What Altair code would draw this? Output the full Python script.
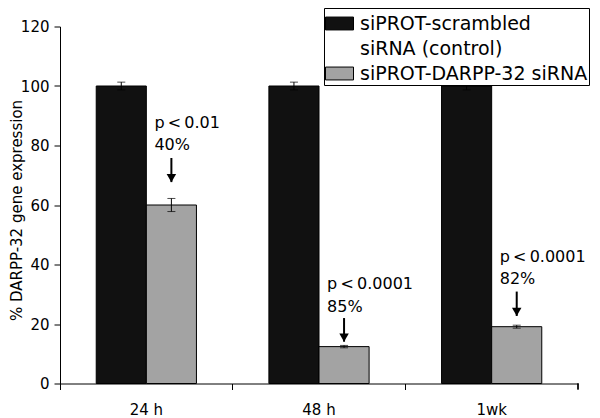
import altair as alt
import pandas as pd

# ---- data ----
timepoints = ["24 h", "48 h", "1wk"]
series = ["siPROT-scrambled", "siRNA (control)", "siPROT-DARPP-32 siRNA"]  # legend rows
control_mean = [100.0, 100.0, 100.0]
control_err = [1.3, 1.3, 1.3]
darpp_mean = [60.0, 12.4, 19.1]
darpp_err = [2.2, 0.4, 0.5]
p_labels = ["p\u2009<\u20090.01", "p\u2009<\u20090.0001", "p\u2009<\u20090.0001"]
reduction_labels = ["40%", "85%", "82%"]
note_line1 = [87.6, 33.4, 42.6]
note_line2 = [80.2, 25.8, 35.1]
arrow_top = [75.8, 22.0, 30.9]
arrow_tip = [67.7, 14.05, 22.7]

bar_series = [series[0], series[2]]

rows = []
for i, t in enumerate(timepoints):
    rows.append(dict(time=t, series=series[0], mean=control_mean[i],
                     lo=control_mean[i] - control_err[i], hi=control_mean[i] + control_err[i]))
    rows.append(dict(time=t, series=series[2], mean=darpp_mean[i],
                     lo=darpp_mean[i] - darpp_err[i], hi=darpp_mean[i] + darpp_err[i]))
bars_df = pd.DataFrame(rows)

notes_df = pd.DataFrame(dict(time=timepoints, series=[series[2]] * 3, p=p_labels,
                             pct=reduction_labels, l1=note_line1, l2=note_line2,
                             a0=arrow_top, a1=arrow_tip))

FONT = "DejaVu Sans"

x = alt.X("time:N", sort=timepoints,
          scale=alt.Scale(paddingInner=0, paddingOuter=0),
          axis=alt.Axis(title=None, bandPosition=0, labelAngle=0,
                        labelFont=FONT, labelFontSize=15, labelColor="black",
                        labelPadding=13, domainColor="black", tickColor="black",
                        tickSize=6, grid=False))
xo = alt.XOffset("series:N", sort=bar_series,
                 scale=alt.Scale(domain=bar_series, paddingInner=0, paddingOuter=0.723))
yscale = alt.Scale(domain=[0, 120], nice=False)

legend = alt.Legend(title=None, orient="none", legendX=264, legendY=-18.5,
                    strokeColor="black", fillColor="white", padding=1,
                    labelFont=FONT, labelFontSize=19, labelColor="black",
                    labelOffset=6, labelLimit=400, rowPadding=-4,
                    symbolType="M-1,-0.46H1V0.46H-1Z", symbolSize=784,
                    symbolStrokeWidth=1, symbolOpacity=1)

bars = alt.Chart(bars_df).mark_bar(strokeWidth=1).encode(
    x=x, xOffset=xo,
    y=alt.Y("mean:Q", scale=yscale,
            axis=alt.Axis(title="% DARPP-32 gene expression", values=[0, 20, 40, 60, 80, 100, 120],
                          labelFont=FONT, labelFontSize=15, labelColor="black",
                          labelPadding=5, domainColor="black", tickColor="black",
                          tickSize=6, grid=False, titleFont=FONT, titleFontSize=15,
                          titleFontWeight="normal", titleColor="black",
                          titleX=-44, titleY=183.5, titleAngle=270, titleAlign="center",
                          titleBaseline="middle")),
    fill=alt.Fill("series:N", sort=series,
                  scale=alt.Scale(domain=series, range=["#111111", "#ffffff", "#a3a3a3"]),
                  legend=legend),
    stroke=alt.Stroke("series:N", sort=series,
                      scale=alt.Scale(domain=series, range=["black", "#ffffff", "black"]),
                      legend=legend),
)

err_rule = alt.Chart(bars_df).mark_rule(color="black", strokeWidth=1).encode(
    x=x, xOffset=xo, y=alt.Y("lo:Q", scale=yscale), y2="hi:Q")
err_top = alt.Chart(bars_df).mark_tick(color="black", thickness=1, size=8, orient="horizontal").encode(
    x=x, xOffset=xo, y=alt.Y("hi:Q", scale=yscale))
err_bot = alt.Chart(bars_df).mark_tick(color="black", thickness=1, size=8, orient="horizontal").encode(
    x=x, xOffset=xo, y=alt.Y("lo:Q", scale=yscale))

txt_kw = dict(font=FONT, fontSize=16, color="black", align="left", baseline="middle", dx=-17)
p_text = alt.Chart(notes_df).mark_text(**txt_kw).encode(
    x=x, xOffset=xo, y=alt.Y("l1:Q", scale=yscale), text="p:N")
pct_text = alt.Chart(notes_df).mark_text(**txt_kw).encode(
    x=x, xOffset=xo, y=alt.Y("l2:Q", scale=yscale), text="pct:N")
shaft = alt.Chart(notes_df).mark_rule(color="black", strokeWidth=2).encode(
    x=x, xOffset=xo, y=alt.Y("a0:Q", scale=yscale), y2="a1:Q")
head = alt.Chart(notes_df).mark_point(shape="triangle-down", filled=True, color="black",
                                      size=90, opacity=1, yOffset=-4).encode(
    x=x, xOffset=xo, y=alt.Y("a1:Q", scale=yscale))

end_tick = alt.Chart(notes_df).mark_rule(color="black", strokeWidth=1).encode(
    x=alt.value(518), y=alt.value(357), y2=alt.value(363))

chart = alt.layer(bars, err_rule, err_top, err_bot, p_text, pct_text, shaft, head, end_tick).properties(
    width=518, height=357,
    padding={"left": 52, "top": 18.5, "right": 14, "bottom": 40},
    autosize=alt.AutoSizeParams(type="none"),
).configure_view(stroke=None)

chart.save("out.html", embed_options={"renderer": "svg", "actions": False})
